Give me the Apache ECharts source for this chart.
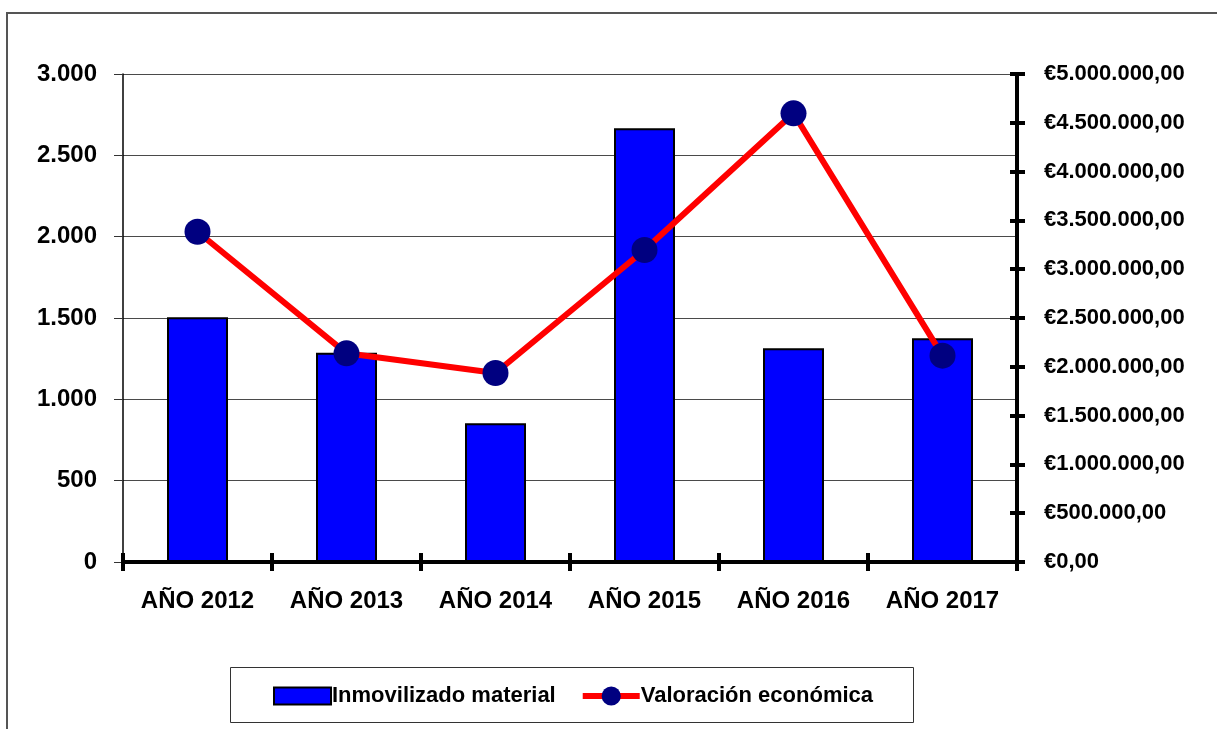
<!DOCTYPE html>
<html>
<head>
<meta charset="utf-8">
<script src="https://cdn.jsdelivr.net/npm/echarts@6/dist/echarts.min.js"></script>
<style>
	html, body { margin: 0; padding: 0; background: #fff; }
	#main { width: 1217px; height: 729px; }
</style>
</head>
<body>
<div id="main"></div>
<script>
/*
 * Inmovilizado material / Valoración económica
 */
var years = ['AÑO 2012', 'AÑO 2013', 'AÑO 2014', 'AÑO 2015', 'AÑO 2016', 'AÑO 2017'];
var inmovilizado = [1505, 1287, 853, 2666, 1314, 1375];
var valoracion = [3384000, 2138000, 1936000, 3197000, 4597000, 2114000];
var leftTicks = [0, 500, 1000, 1500, 2000, 2500, 3000];
var rightTicks = [0, 500000, 1000000, 1500000, 2000000, 2500000, 3000000, 3500000, 4000000, 4500000, 5000000];

var FONT = "'Liberation Sans', Arial, sans-serif";

// separador de miles con punto
function miles(n) {
	return String(Math.round(n)).replace(/\B(?=(\d{3})+(?!\d))/g, '.');
}

function euros(n) {
	return '€' + miles(n) + ',00';
}

var dom = document.getElementById('main');
var myChart = echarts.init(dom, null, { renderer: 'canvas' });

var labelStyle = {
	color: '#000',
	fontFamily: FONT,
	fontWeight: 'bold',
	fontSize: 24
};

option = {
	backgroundColor: '#fff',
	animation: false,
	graphic: [
		{
			// marco exterior
			type: 'rect',
			z: -10,
			shape: { x: 7, y: 13, width: 1400, height: 900 },
			style: { fill: 'none', stroke: '#555', lineWidth: 2 }
		},
		{
			// caja de la leyenda
			type: 'rect',
			z: -5,
			shape: { x: 230.5, y: 667.5, width: 683, height: 55 },
			style: { fill: '#fff', stroke: '#333', lineWidth: 1 }
		}
	],
	grid: {
		left: 123,
		right: 200,
		top: 74,
		bottom: 167
	},
	legend: {
		left: 268,
		top: 680,
		itemWidth: 57,
		itemHeight: 24,
		itemGap: 24,
		lineStyle: { width: 6 },
		textStyle: {
			color: '#000',
			fontFamily: FONT,
			fontWeight: 'bold',
			fontSize: 22,
			padding: [0, 0, 0, -4]
		},
		data: [
			{ name: 'Inmovilizado material', icon: 'path://M0,0 L57,0 L57,17 L0,17 Z' },
			{ name: 'Valoración económica' }
		]
	},
	xAxis: [
		{
			type: 'category',
			data: years,
			axisLine: { lineStyle: { color: '#000', width: 4 } },
			axisTick: { show: true, length: 9, lineStyle: { color: '#000', width: 4 } },
			axisLabel: Object.assign({ margin: 27 }, labelStyle)
		},
		{
			// ticks hacia dentro
			type: 'category',
			position: 'bottom',
			data: years,
			axisLine: { show: false },
			axisTick: { show: true, inside: true, length: 9, lineStyle: { color: '#000', width: 4 } },
			axisLabel: { show: false }
		}
	],
	yAxis: [
		{
			type: 'value',
			min: leftTicks[0],
			max: leftTicks[leftTicks.length - 1],
			interval: 500,
			axisLine: { show: true, lineStyle: { color: '#000', width: 1.5 } },
			axisTick: { show: true, length: 9, lineStyle: { color: '#333', width: 1 } },
			splitLine: { show: true, lineStyle: { color: '#4a4a4a', width: 1 } },
			axisLabel: Object.assign({
				margin: 26,
				formatter: function(v) { return miles(v); }
			}, labelStyle)
		},
		{
			type: 'value',
			position: 'right',
			min: rightTicks[0],
			max: rightTicks[rightTicks.length - 1],
			interval: 500000,
			axisLine: { show: true, lineStyle: { color: '#000', width: 4 } },
			axisTick: { show: true, length: 8, lineStyle: { color: '#000', width: 4 } },
			splitLine: { show: false },
			axisLabel: Object.assign({}, labelStyle, {
				margin: 27,
				fontSize: 22,
				formatter: function(v) { return euros(v); }
			})
		},
		{
			// ticks hacia dentro del eje derecho
			type: 'value',
			position: 'right',
			min: rightTicks[0],
			max: rightTicks[rightTicks.length - 1],
			interval: 500000,
			axisLine: { show: false },
			axisTick: { show: true, inside: true, length: 7, lineStyle: { color: '#000', width: 4 } },
			splitLine: { show: false },
			axisLabel: { show: false }
		}
	],
	series: [
		{
			name: 'Inmovilizado material',
			type: 'bar',
			xAxisIndex: 0,
			yAxisIndex: 0,
			barWidth: 61,
			itemStyle: {
				color: '#0000FF',
				borderColor: '#000',
				borderWidth: 2
			},
			data: inmovilizado
		},
		{
			name: 'Valoración económica',
			type: 'line',
			xAxisIndex: 0,
			yAxisIndex: 1,
			symbol: 'circle',
			symbolSize: 26,
			lineStyle: { color: '#FF0000', width: 6 },
			itemStyle: { color: '#000080' },
			data: valoracion
		}
	]
};
myChart.setOption(option);
</script>
</body>
</html>
